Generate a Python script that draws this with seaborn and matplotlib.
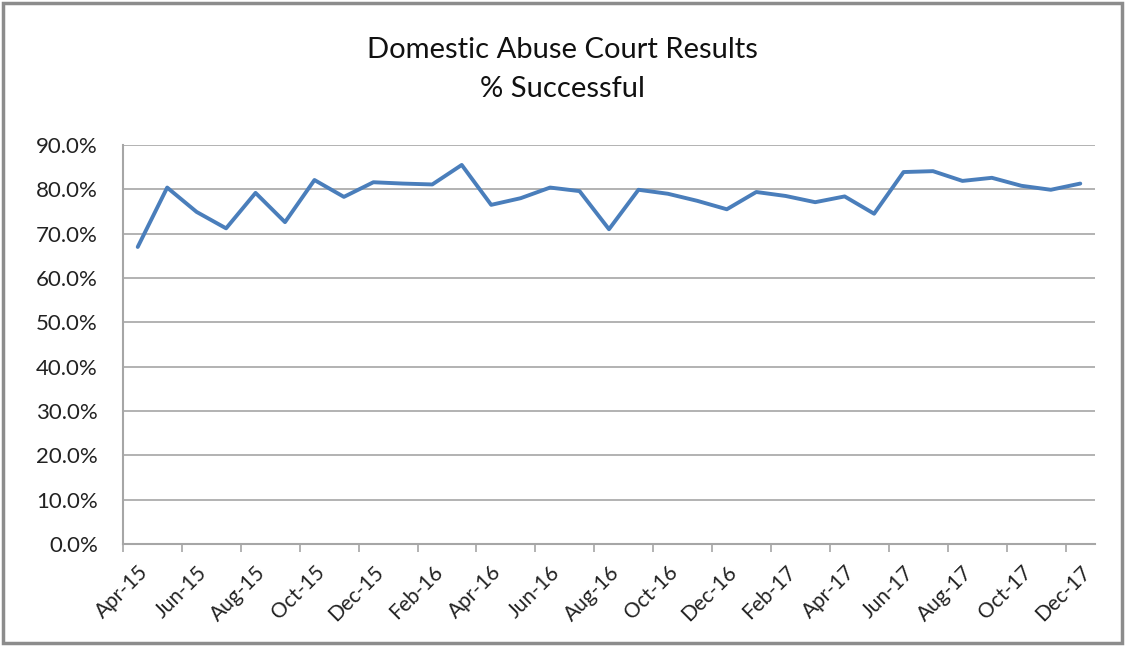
import numpy as np
import pandas as pd
import matplotlib
matplotlib.use("Agg")
import matplotlib.pyplot as plt
from matplotlib.patches import Rectangle
from matplotlib.ticker import FuncFormatter, FixedLocator
import seaborn as sns

# monthly data, Apr-15 .. Dec-17
months = pd.date_range("2015-04-01", "2017-12-01", freq="MS").strftime("%b-%y").tolist()
success_pct = [
    67.0, 80.4, 74.9, 71.2, 79.2, 72.6, 82.1, 78.3, 81.6, 81.3, 81.1, 85.5,
    76.5, 78.0, 80.4, 79.6, 71.0, 79.9, 79.0, 77.4, 75.5, 79.4, 78.5, 77.1,
    78.4, 74.5, 83.9, 84.1, 81.9, 82.6, 80.8, 79.9, 81.3,
]
title_lines = ["Domestic Abuse Court Results", "% Successful"]

df = pd.DataFrame({"month": months, "rate": np.array(success_pct) / 100})
df["pos"] = np.arange(len(df))

sns.set_theme(style="white")
plt.rcParams["font.family"] = ["Lato", "DejaVu Sans"]

fig = plt.figure(figsize=(11.25, 6.46), dpi=100)
ax = fig.add_axes([123 / 1125, 1 - 544 / 646, (1095 - 123) / 1125, (544 - 145) / 646])

sns.lineplot(data=df, x="pos", y="rate", color="#4a7ebb", linewidth=2.8, ax=ax)

n = len(df)
ax.set_xlim(-0.5, n - 0.5)
ax.set_ylim(0, 0.9)
ax.set_yticks(np.arange(0, 0.91, 0.1))
ax.yaxis.set_major_formatter(FuncFormatter(lambda v, _: f"{v * 100:.1f}%"))
ax.yaxis.grid(True, color="#a6a6a6", linewidth=1.2)
ax.tick_params(axis="y", length=0, labelsize=16, pad=18, labelcolor="#222222")

# tick marks on category boundaries every 2 months, labels on the even months
ax.xaxis.set_major_locator(FixedLocator(np.arange(-0.5, n, 2)))
ax.xaxis.set_major_formatter(FuncFormatter(lambda v, _: ""))
ax.xaxis.set_minor_locator(FixedLocator(df["pos"][::2].tolist()))
ax.set_xticklabels(df["month"][::2].tolist(), minor=True, rotation=45,
                   ha="right", rotation_mode="anchor", fontsize=15, color="#222222")
ax.tick_params(axis="x", which="major", length=6, width=1.2, color="#a6a6a6", bottom=True)
ax.tick_params(axis="x", which="minor", length=0, pad=13)
ax.set_xlabel("")
ax.set_ylabel("")

for side in ["top", "right"]:
    ax.spines[side].set_visible(False)
for side in ["left", "bottom"]:
    ax.spines[side].set_color("#a6a6a6")
    ax.spines[side].set_linewidth(1.5)

fig.text(0.5, 1 - 50 / 646, title_lines[0], ha="center", va="center", fontsize=21, color="#111111")
fig.text(0.5, 1 - 89 / 646, title_lines[1], ha="center", va="center", fontsize=21, color="#111111")

fig.patches.append(Rectangle((3 / 1125, 3 / 646), 1 - 6 / 1125, 1 - 6 / 646,
                             transform=fig.transFigure, fill=False,
                             edgecolor="#8c8c8c", linewidth=2.5))

fig.savefig("out.png", dpi=100)
